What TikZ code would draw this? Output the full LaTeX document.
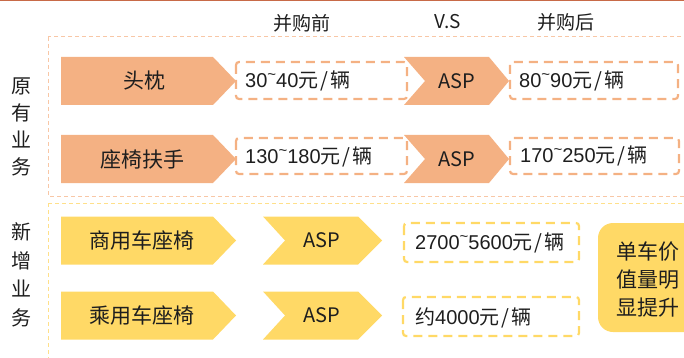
\documentclass[tikz,border=0pt]{standalone}
\usepackage{fontspec}
\setmainfont{Liberation Sans}
\newfontfamily\cjk{Noto Sans CJK SC}
\definecolor{topline}{HTML}{C86A48}
\definecolor{oranfill}{HTML}{F4B183}
\definecolor{oranlight}{HTML}{F8C7A6}
\definecolor{yelfill}{HTML}{FFD966}
\definecolor{yellight}{HTML}{FFE08A}
\definecolor{txt}{HTML}{1E1E1E}
\newcommand{\tld}{{\fontsize{15}{15}\selectfont\raisebox{0.55em}{\textasciitilde}}}
\newcommand{\yuan}{{\cjk 元\hspace{2pt}/\hspace{2pt}辆}}
% chevron: x1, x2, yc, notch, tip, colour
\newcommand{\mychev}[6]{%
  \fill[#6] (#1,{#3-24}) -- ({#2-#5},{#3-24}) -- (#2,#3) -- ({#2-#5},{#3+24}) -- (#1,{#3+24}) -- ({#1+#4},#3) -- cycle;}
\tikzset{
  outerbox/.style={line width=1pt, dash pattern=on 4pt off 3pt},
  pricebox/.style={line width=2.2pt, dash pattern=on 9pt off 6pt, rounded corners=3pt},
  lbl/.style={inner sep=0pt, text=txt, font=\cjk\fontsize{21}{24}\selectfont},
  price/.style={inner sep=0pt, text=txt, anchor=west, font=\fontsize{20}{22}\selectfont},
  asp/.style={inner sep=0pt, text=txt, font=\cjk\fontsize{20}{22}\selectfont},
  head/.style={inner sep=0pt, text=txt, font=\cjk\fontsize{19}{20}\selectfont},
}
\begin{document}
\begin{tikzpicture}[x=1pt,y=-1pt]
\useasboundingbox (0,0) rectangle (684,358);
\clip (0,0) rectangle (684,358);
% top line
\draw[topline, line width=2pt] (0,0.5) -- (684,0.5);
% headings
\node[head] (h1) at (302,23) {并购前};
\node[head] (h2) at (448,22) {V.S};
\node[head] (h3) at (566,22) {并购后};
% outer boxes
\draw[oranlight, outerbox] (48,37) rectangle (720,196);
\draw[yellight, outerbox] (48,203) rectangle (720,380);
% left labels
\node[lbl, align=center, font=\cjk\fontsize{20}{27}\selectfont] (l1) at (22,127) {原\\有\\业\\务};
\node[lbl, align=center, font=\cjk\fontsize{20}{28.5}\selectfont] (l2) at (22,275) {新\\增\\业\\务};
% orange rows
\mychev{61}{236}{81}{0}{23}{oranfill}
\mychev{61}{236}{159}{0}{23}{oranfill}
\mychev{404}{509}{81}{21}{20}{oranfill}
\mychev{404}{509}{159}{21}{20}{oranfill}
\node[lbl] (a1) at (144,81) {头枕};
\node[lbl] (a2) at (142,159) {座椅扶手};
\node[asp] (asp1) at (457,81) {ASP};
\node[asp] (asp2) at (457,159) {ASP};
\draw[oranfill, pricebox] (236,62) rectangle (407,99);
\draw[oranfill, pricebox] (510,62) rectangle (678,99);
\draw[oranfill, pricebox] (236,138) rectangle (407,174);
\draw[oranfill, pricebox] (510,138) rectangle (679,174);
\node[price] (p1) at (245,81) {30\tld40\yuan};
\node[price] (p2) at (519,81) {80\tld90\yuan};
\node[price] (p3) at (245,157) {130\tld180\yuan};
\node[price] (p4) at (520,156) {170\tld250\yuan};
% yellow rows
\mychev{61}{236}{240.5}{0}{23}{yelfill}
\mychev{61}{236}{315.5}{0}{23}{yelfill}
\mychev{263}{382}{240.5}{22}{24}{yelfill}
\mychev{263}{382}{315.5}{22}{24}{yelfill}
\node[lbl] (b1) at (142,240.5) {商用车座椅};
\node[lbl] (b2) at (142,315.5) {乘用车座椅};
\node[asp] (asp3) at (322,240.5) {ASP};
\node[asp] (asp4) at (322,315.5) {ASP};
\draw[yelfill, pricebox] (404,223) rectangle (579,262);
\draw[yelfill, pricebox] (403,297) rectangle (579,336);
\node[price] (p5) at (415,243) {2700\tld5600\yuan};
\node[price] (p6) at (415,318) {{\cjk 约}4000\yuan};
% summary box
\fill[yelfill, rounded corners=15pt] (598,223) rectangle (720,332);
\node[lbl, align=center, font=\cjk\fontsize{21}{28}\selectfont] (s) at (648,279) {单车价\\值量明\\显提升};
\end{tikzpicture}
\end{document}
